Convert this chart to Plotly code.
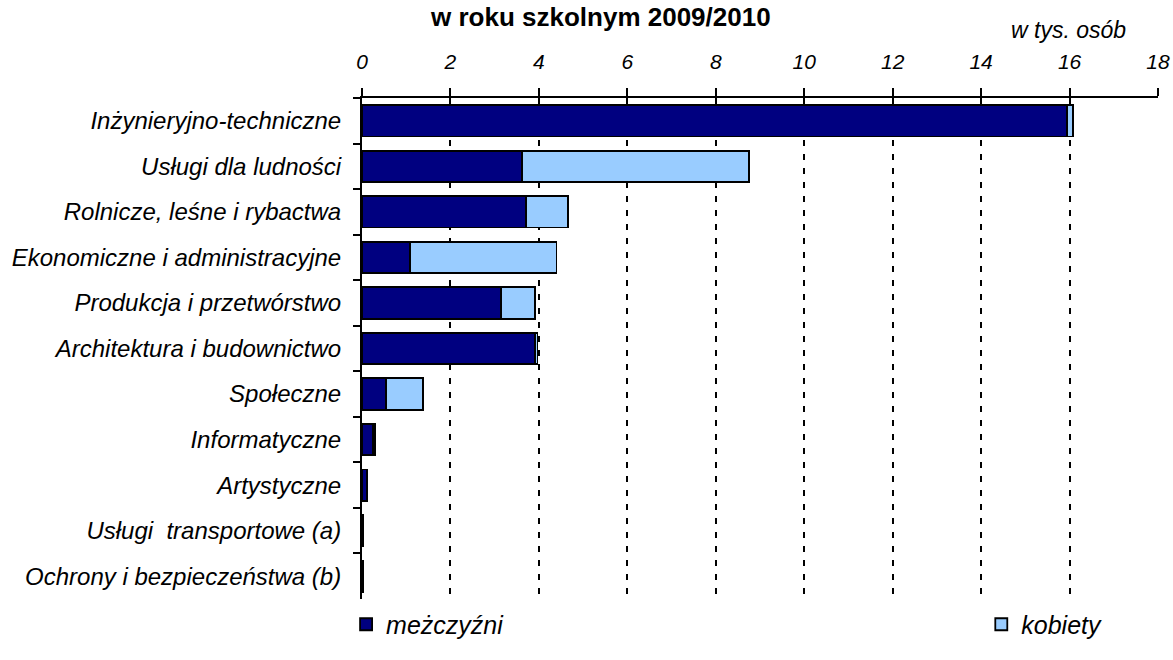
import plotly.graph_objects as go

categories = [
    "Inżynieryjno-techniczne",
    "Usługi dla ludności",
    "Rolnicze, leśne i rybactwa",
    "Ekonomiczne i administracyjne",
    "Produkcja i przetwórstwo",
    "Architektura i budownictwo",
    "Społeczne",
    "Informatyczne",
    "Artystyczne",
    "Usługi  transportowe (a)",
    "Ochrony i bezpieczeństwa (b)",
]
men = [15.95, 3.61, 3.70, 1.08, 3.14, 3.91, 0.54, 0.25, 0.10, 0.02, 0.03]
women = [0.12, 5.15, 0.95, 3.32, 0.77, 0.06, 0.84, 0.04, 0.01, 0.00, 0.00]
x_ticks = list(range(0, 19, 2))

FONT = "Liberation Sans, Arial, sans-serif"

fig = go.Figure()
fig.add_trace(go.Bar(y=categories, x=men, orientation="h", name="meżczyźni", legend="legend",
                     marker=dict(color="#000080", line=dict(color="black", width=1.8))))
fig.add_trace(go.Bar(y=categories, x=women, orientation="h", name="kobiety", legend="legend2",
                     marker=dict(color="#99ccff", line=dict(color="black", width=1.8))))

legend_style = dict(orientation="h", y=-0.005, yanchor="top", xanchor="left",
                    font=dict(size=25, style="italic"), bgcolor="rgba(0,0,0,0)")
fig.update_layout(
    barmode="stack",
    bargap=0.31,
    width=1173, height=660,
    margin=dict(l=362, r=15, t=98, b=30),
    plot_bgcolor="white", paper_bgcolor="white",
    font=dict(family=FONT, color="black", size=22),
    legend=dict(x=-0.02, **legend_style),
    legend2=dict(x=0.778, **legend_style),
    showlegend=True,
)
fig.update_xaxes(
    side="top", range=[0, 18], tickvals=x_ticks, automargin=False,
    ticks="outside", ticklen=8, tickwidth=2, tickcolor="black",
    showline=True, linecolor="black", linewidth=2,
    showgrid=True, gridcolor="black", gridwidth=2, griddash="6px,8px",
    zeroline=False, ticklabelstandoff=11,
    tickfont=dict(size=21, style="italic"),
)
fig.update_yaxes(
    autorange="reversed", tickson="boundaries", automargin=False,
    ticks="outside", ticklen=7, tickwidth=2, tickcolor="black",
    showline=True, linecolor="black", linewidth=2,
    showgrid=False, ticklabelstandoff=14,
    tickfont=dict(size=24, style="italic"),
)
fig.add_annotation(text="w roku szkolnym 2009/2010", xref="paper", yref="paper",
                   x=(600 - 362) / 796, y=1.0, yshift=81, xanchor="center", yanchor="middle",
                   showarrow=False, font=dict(size=26, weight="bold"))
fig.add_annotation(text="w tys. osób", xref="paper", yref="paper",
                   x=(1068 - 362) / 796, y=1.0, yshift=68, xanchor="center", yanchor="middle",
                   showarrow=False, font=dict(size=23, style="italic"))

# drop the default page margin so the figure fills the window exactly
fig.write_html("out.html", config={"displayModeBar": False},
               post_script="document.body.style.margin='0';")
